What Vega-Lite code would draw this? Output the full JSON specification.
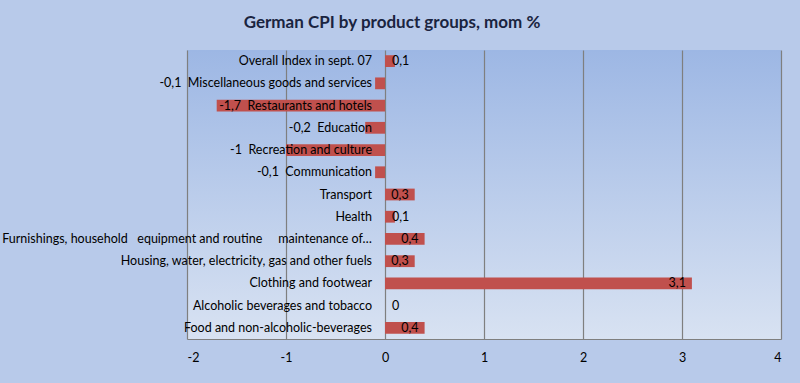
{
  "$schema": "https://vega.github.io/schema/vega-lite/v6.json",
  "width": 594,
  "height": 289,
  "autosize": {"type": "none"},
  "padding": {"left": 187, "top": 50, "right": 19, "bottom": 44},
  "background": "#B8CAEA",
  "config": {
    "locale": {"number": {"decimal": ",", "thousands": ".", "grouping": [3], "currency": ["", " €"], "minus": "-"}},
    "view": {"stroke": null, "fill": {"gradient": "linear", "x1": 0, "y1": 0, "x2": 0, "y2": 1, "stops": [{"offset": 0, "color": "#9DB7E4"}, {"offset": 1, "color": "#D8E2F2"}]}},
    "font": "Lato"
  },
  "title": {
    "text": "German CPI by product groups, mom %",
    "font": "Lato",
    "fontSize": 17,
    "fontWeight": "bold",
    "color": "#1A2440",
    "anchor": "middle",
    "dx": -92,
    "offset": 18
  },
  "data": {
    "values": [
      {"group": "Overall Index in sept. 07", "value": 0.1},
      {"group": "Miscellaneous goods and services", "value": -0.1},
      {"group": "Restaurants and hotels", "value": -1.7},
      {"group": "Education", "value": -0.2},
      {"group": "Recreation and culture", "value": -1},
      {"group": "Communication", "value": -0.1},
      {"group": "Transport", "value": 0.3},
      {"group": "Health", "value": 0.1},
      {"group": "Furnishings, household \u00a0 equipment and routine \u00a0 \u00a0 maintenance of…", "value": 0.4},
      {"group": "Housing, water, electricity, gas and other fuels", "value": 0.3},
      {"group": "Clothing and footwear", "value": 3.1},
      {"group": "Alcoholic beverages and tobacco", "value": 0},
      {"group": "Food and non-alcoholic-beverages", "value": 0.4}
    ]
  },
  "encoding": {
    "y": {
      "field": "group",
      "type": "nominal",
      "sort": null,
      "axis": null,
      "scale": {"paddingInner": 0.47, "paddingOuter": 0.235}
    }
  },
  "layer": [
    {
      "mark": {"type": "bar", "color": "#C0504D"},
      "encoding": {
        "x": {
          "field": "value",
          "type": "quantitative",
          "scale": {"domain": [-2, 4], "nice": false, "zero": false},
          "axis": {
            "values": [-2, -1, 0, 1, 2, 3, 4],
            "title": null,
            "grid": true,
            "gridColor": "#7F7F7F",
            "gridOpacity": 1,
            "gridWidth": 1.2,
            "domain": true,
            "domainColor": "#7F7F7F",
            "domainWidth": 1.2,
            "ticks": false,
            "labelPadding": 12,
            "labelFont": "Lato",
            "labelFontSize": 12.5,
            "labelColor": "#000000",
            "format": "~r"
          }
        }
      }
    },
    {
      "mark": {
        "type": "text",
        "align": "right",
        "baseline": "middle",
        "dx": -13,
        "fontSize": 12.5,
        "color": "#000000",
        "text": {"expr": "datum.value < 0 ? format(datum.value, '.2~r') + '\u00a0\u00a0' + datum.group : datum.group"}
      },
      "encoding": {
        "x": {"datum": 0, "type": "quantitative"}
      }
    },
    {
      "transform": [{"filter": "datum.value >= 0.3"}],
      "mark": {"type": "text", "align": "right", "baseline": "middle", "dx": -6, "fontSize": 12.5, "color": "#000000"},
      "encoding": {
        "x": {"field": "value", "type": "quantitative"},
        "text": {"field": "value", "type": "quantitative", "format": ".2~r"}
      }
    },
    {
      "transform": [{"filter": "datum.value >= 0 && datum.value < 0.3"}],
      "mark": {"type": "text", "align": "left", "baseline": "middle", "dx": 7, "fontSize": 12.5, "color": "#000000"},
      "encoding": {
        "x": {"datum": 0, "type": "quantitative"},
        "text": {"field": "value", "type": "quantitative", "format": ".2~r"}
      }
    }
  ]
}
